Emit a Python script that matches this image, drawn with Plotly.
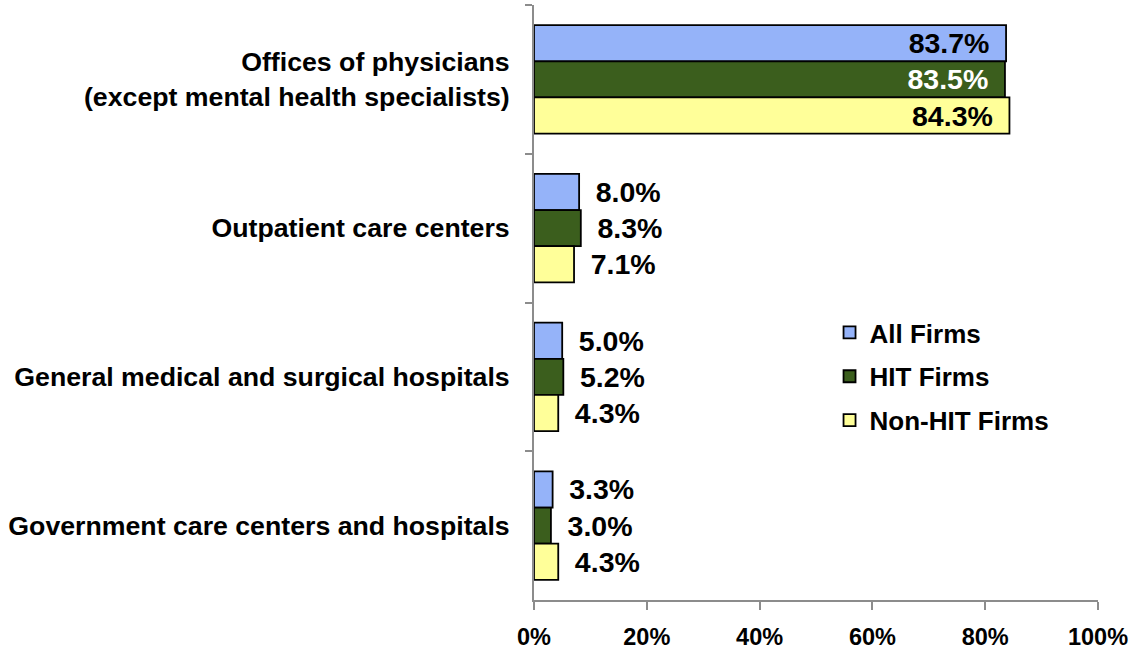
import plotly.graph_objects as go

categories = [
    "Offices of physicians<br>(except mental health specialists)",
    "Outpatient care centers",
    "General medical and surgical hospitals",
    "Government care centers and hospitals",
]
series_names = ["All Firms", "HIT Firms", "Non-HIT Firms"]
all_firms = [83.7, 8.0, 5.0, 3.3]
hit_firms = [83.5, 8.3, 5.2, 3.0]
non_hit_firms = [84.3, 7.1, 4.3, 4.3]
x_ticks = [0, 20, 40, 60, 80, 100]
x_tick_labels = ["0%", "20%", "40%", "60%", "80%", "100%"]

values = [all_firms, hit_firms, non_hit_firms]
colors = ["#95B3F9", "#3B5E1D", "#FFFF99"]
inside_text_colors = ["black", "white", "black"]

FONT = "Liberation Sans, Arial, sans-serif"
pad = "\u00a0\u2009"

fig = go.Figure()
for name, vals, col, itc in zip(series_names, values, colors, inside_text_colors):
    positions = ["inside" if v > 50 else "outside" for v in vals]
    templates = [("%{x:.1f}%" + pad) if p == "inside" else (pad + "%{x:.1f}%") for p in positions]
    fig.add_trace(go.Bar(
        name=name,
        y=categories,
        x=vals,
        orientation="h",
        legendgroup=name,
        marker=dict(color=col, line=dict(color="black", width=1.8)),
        texttemplate=templates,
        textposition=positions,
        insidetextanchor="end",
        constraintext="none",
        cliponaxis=False,
        insidetextfont=dict(family=FONT, size=28.5, color=itc, weight="bold"),
        outsidetextfont=dict(family=FONT, size=28.5, color="black", weight="bold"),
        hoverinfo="skip",
    ))

fig.update_layout(
    width=1135,
    height=652,
    barmode="group",
    bargap=0.27,
    bargroupgap=0,
    plot_bgcolor="white",
    paper_bgcolor="white",
    margin=dict(l=534, r=37, t=5, b=52),
    font=dict(family=FONT, color="black"),
    legend=dict(
        x=0.524, y=0.489, xanchor="left", yanchor="top",
        traceorder="grouped",
        tracegroupgap=7,
        font=dict(family=FONT, size=26, color="black", weight="bold"),
        bgcolor="rgba(0,0,0,0)",
    ),
    showlegend=True,
)

fig.update_xaxes(
    range=[0, 100],
    tickvals=x_ticks,
    ticktext=x_tick_labels,
    automargin=False,
    showgrid=False,
    zeroline=False,
    showline=True,
    linecolor="#8C8C8C",
    linewidth=2,
    ticks="outside",
    ticklen=8,
    tickwidth=2,
    tickcolor="#8C8C8C",
    tickfont=dict(family=FONT, size=23.5, color="black", weight="bold"),
    ticklabelstandoff=7,
)

fig.update_yaxes(
    type="category",
    autorange="reversed",
    automargin=False,
    showgrid=False,
    showline=True,
    linecolor="#8C8C8C",
    linewidth=2,
    ticks="outside",
    tickson="boundaries",
    ticklen=7,
    tickwidth=2,
    tickcolor="#8C8C8C",
    tickfont=dict(family=FONT, size=26.7, color="black", weight="bold"),
    ticklabelstandoff=17,
)

fig.write_html(
    "out.html",
    config={"displayModeBar": False},
    post_script="document.body.style.margin='0';document.body.style.overflow='hidden';",
)
